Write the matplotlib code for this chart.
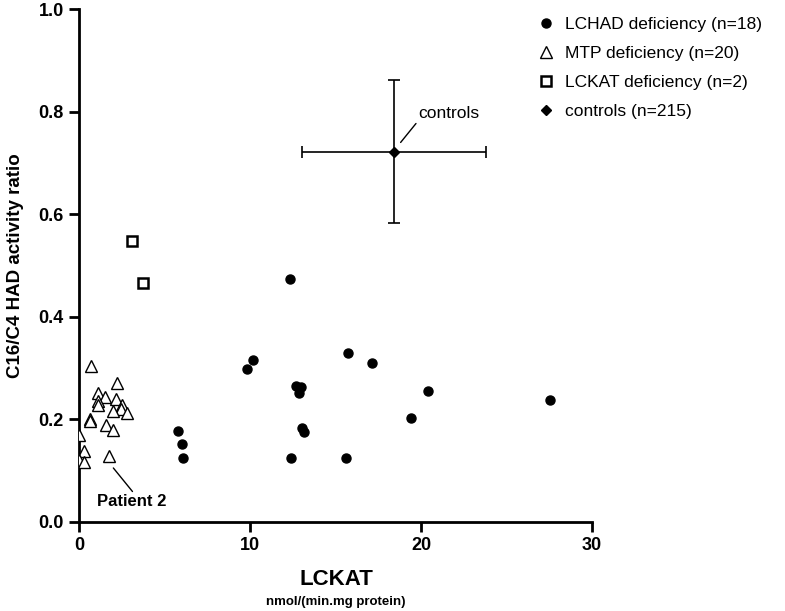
import matplotlib
matplotlib.use("Agg")
import matplotlib.pyplot as plt
from matplotlib.lines import Line2D

plt.rcParams['font.family'] = ['Liberation Sans', 'DejaVu Sans']

# LCHAD deficiency (filled circles)
lchad_x = [5.81, 6.04, 6.10, 12.32, 10.16, 9.82, 15.71, 17.13, 12.69, 12.96,
           12.88, 20.41, 19.42, 13.02, 13.14, 12.40, 15.61, 27.54]
lchad_y = [0.177, 0.152, 0.124, 0.473, 0.316, 0.299, 0.329, 0.309, 0.265, 0.262,
           0.252, 0.256, 0.202, 0.183, 0.176, 0.124, 0.124, 0.237]

# MTP deficiency (open triangles)
mtp_x = [0.68, 2.22, 1.09, 1.52, 1.09, 1.09, 2.16, 2.51, 2.44, 1.97,
         2.79, 0.63, 0.63, 1.60, 2.01, 0.00, 0.29, 0.00, 0.29, 1.74]
mtp_y = [0.304, 0.271, 0.251, 0.244, 0.235, 0.228, 0.239, 0.228, 0.221, 0.217,
         0.213, 0.201, 0.197, 0.189, 0.180, 0.170, 0.138, 0.120, 0.117, 0.129]

# LCKAT deficiency (open squares)
lckat_x = [3.08, 3.73]
lckat_y = [0.548, 0.466]

# controls mean +/- SD
ctrl_x = [18.42]
ctrl_y = [0.722]
ctrl_xerr = [5.4]
ctrl_yerr = [0.14]

labels = ["LCHAD deficiency (n=18)", "MTP deficiency (n=20)",
          "LCKAT deficiency (n=2)", "controls (n=215)"]

fig = plt.figure(figsize=(7.85, 6.11), dpi=100)
ax = fig.add_axes([0.1006, 0.146, 0.6535, 0.839])

ax.errorbar(ctrl_x, ctrl_y, xerr=ctrl_xerr, yerr=ctrl_yerr, fmt='D', color='black',
            ms=5, elinewidth=1.2, capsize=4, capthick=1.2, zorder=3)
ax.plot(mtp_x, mtp_y, linestyle='none', marker='^', ms=9, mfc='white', mec='black',
        mew=1.0, zorder=4)
ax.plot(lckat_x, lckat_y, linestyle='none', marker='s', ms=6.5, mfc='white', mec='black',
        mew=1.8, zorder=4)
ax.plot(lchad_x, lchad_y, linestyle='none', marker='o', ms=6.5, color='black', zorder=5)

ax.set_xlim(0, 30)
ax.set_ylim(0, 1.0)
ax.set_xticks([0, 10, 20, 30])
ax.set_yticks([0.0, 0.2, 0.4, 0.6, 0.8, 1.0])
ax.set_yticklabels(['0.0', '0.2', '0.4', '0.6', '0.8', '1.0'])
for s in ['top', 'right']:
    ax.spines[s].set_visible(False)
for s in ['left', 'bottom']:
    ax.spines[s].set_linewidth(2.0)
ax.tick_params(axis='both', direction='out', length=7, width=2, labelsize=13, pad=4)
for lab in ax.get_xticklabels() + ax.get_yticklabels():
    lab.set_fontweight('bold')

ax.set_ylabel('C16/C4 HAD activity ratio', fontsize=13.5, fontweight='bold', labelpad=10)
fig.text(0.428, 0.051, 'LCKAT', fontsize=16, fontweight='bold', ha='center', va='center')
fig.text(0.428, 0.015, 'nmol/(min.mg protein)', fontsize=9.5, fontweight='bold',
         ha='center', va='center')

# annotations
ax.annotate('controls', xy=(18.81, 0.740), xytext=(19.84, 0.797), fontsize=12.5,
            ha='left', va='center',
            arrowprops=dict(arrowstyle='-', color='black', lw=1.0, shrinkA=0, shrinkB=0,
                            relpos=(0.0, 0.0)))
ax.annotate('Patient 2', xy=(2.01, 0.105), xytext=(1.03, 0.039), fontsize=12,
            fontweight='bold', ha='left', va='center',
            arrowprops=dict(arrowstyle='-', color='black', lw=1.0, shrinkA=0, shrinkB=0,
                            relpos=(0.55, 1.0)))

handles = [
    Line2D([], [], linestyle='none', marker='o', ms=6.5, color='black'),
    Line2D([], [], linestyle='none', marker='^', ms=9, mfc='white', mec='black', mew=1.0),
    Line2D([], [], linestyle='none', marker='s', ms=6.5, mfc='white', mec='black', mew=1.8),
    Line2D([], [], linestyle='none', marker='D', ms=5, color='black'),
]
fig.legend(handles, labels, loc='upper left', bbox_to_anchor=(0.669, 0.993), frameon=False,
           fontsize=12.5, handletextpad=0.6, labelspacing=0.8, handlelength=1.0,
           borderaxespad=0.3)

fig.savefig('out.png', dpi=100)
